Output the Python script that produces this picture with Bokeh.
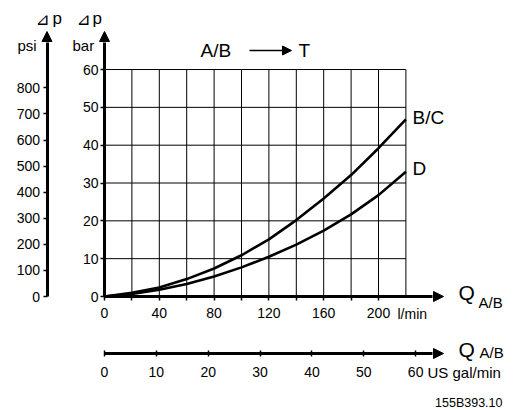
from bokeh.plotting import figure
from bokeh.models import (Range1d, LinearAxis, FixedTicker, Arrow, NormalHead,
                          Label, Grid, ColumnDataSource)
from bokeh.embed import file_html
from bokeh.resources import INLINE

# ---------------- data ----------------
FLOW_LPM = [0, 20, 40, 60, 80, 100, 120, 140, 160, 180, 200, 220]
DP_BC = [0, 1.0, 2.4, 4.6, 7.4, 10.9, 15.1, 20.2, 25.9, 32.1, 39.2, 46.8]
DP_D = [0, 0.7, 1.8, 3.3, 5.3, 7.7, 10.5, 13.7, 17.4, 21.7, 26.8, 33.0]

BAR_TICKS = [0, 10, 20, 30, 40, 50, 60]
PSI_TICKS = [0, 100, 200, 300, 400, 500, 600, 700, 800]
LPM_TICKS = [0, 40, 80, 120, 160, 200]
LPM_MINOR = [20, 60, 100, 140, 180]
GAL_TICKS = [0, 10, 20, 30, 40, 50, 60]
GRID_X = [20, 40, 60, 80, 100, 120, 140, 160, 180, 200, 220]
GRID_Y = [10, 20, 30, 40, 50, 60]

PSI_PER_BAR = 14.5038
LPM_PER_GAL = 3.78541

# ---------------- layout ----------------
W, H = 526, 409
MARGIN = 0
ORIGIN_X, ORIGIN_Y = 104.0, 296.0   # page pixels of (0 l/min, 0 bar)
PX_PER_LPM = 1.37
PX_PER_BAR = 3.783


def qx(px):
    return (px - ORIGIN_X) / PX_PER_LPM


def by(py):
    return (ORIGIN_Y - py) / PX_PER_BAR


FONT = "Liberation Sans"

p = figure(width=W, height=H, output_backend="svg", toolbar_location=None,
           tools="", x_range=Range1d(qx(MARGIN), qx(MARGIN + W)),
           y_range=Range1d(by(MARGIN + H), by(MARGIN)),
           x_axis_location=None, y_axis_location=None, min_border=0,
           outline_line_color=None, background_fill_color="white",
           border_fill_color="white")
p.title.visible = False
p.center = [r for r in p.center if not isinstance(r, Grid)]

p.extra_y_ranges = {"psi": Range1d(by(MARGIN + H) * PSI_PER_BAR, by(MARGIN) * PSI_PER_BAR)}
p.extra_x_ranges = {"gal": Range1d(qx(MARGIN) / LPM_PER_GAL, qx(MARGIN + W) / LPM_PER_GAL)}

# grid
gx = ColumnDataSource(dict(x0=GRID_X, y0=[0] * len(GRID_X), x1=GRID_X,
                           y1=[max(GRID_Y)] * len(GRID_X)))
gy = ColumnDataSource(dict(x0=[0] * len(GRID_Y), y0=GRID_Y,
                           x1=[max(GRID_X)] * len(GRID_Y), y1=GRID_Y))
p.segment("x0", "y0", "x1", "y1", source=gx, line_color="black", line_width=1)
p.segment("x0", "y0", "x1", "y1", source=gy, line_color="black", line_width=1)

# curves
p.line(FLOW_LPM, DP_BC, line_color="black", line_width=2.6, line_join="round")
p.line(FLOW_LPM, DP_D, line_color="black", line_width=2.6, line_join="round")


def style(ax, tick_in=0, tick_out=4, standoff=3):
    ax.axis_line_width = 3
    ax.axis_line_color = "black"
    ax.major_tick_line_width = 1.5
    ax.major_tick_line_color = "black"
    ax.major_tick_in = tick_in
    ax.major_tick_out = tick_out
    ax.minor_tick_line_width = 1.5
    ax.minor_tick_line_color = "black"
    ax.minor_tick_in = 0
    ax.minor_tick_out = tick_out
    ax.major_label_standoff = standoff
    ax.major_label_text_font = FONT
    ax.major_label_text_font_size = "14px"
    ax.major_label_text_color = "black"


bar_axis = LinearAxis(ticker=FixedTicker(ticks=BAR_TICKS), fixed_location=0,
                      bounds=(0, by(42)))
style(bar_axis, tick_out=4, standoff=2)
p.add_layout(bar_axis, "left")

psi_axis = LinearAxis(y_range_name="psi", ticker=FixedTicker(ticks=PSI_TICKS),
                      fixed_location=qx(46.5), bounds=(0, by(42) * PSI_PER_BAR))
style(psi_axis, tick_out=4, standoff=3)
p.add_layout(psi_axis, "left")

lpm_axis = LinearAxis(ticker=FixedTicker(ticks=LPM_TICKS, minor_ticks=LPM_MINOR),
                      fixed_location=0, bounds=(0, qx(432)))
style(lpm_axis, tick_out=4, standoff=7)
p.add_layout(lpm_axis, "below")

gal_axis = LinearAxis(x_range_name="gal", ticker=FixedTicker(ticks=GAL_TICKS),
                      fixed_location=by(353), bounds=(0, qx(432) / LPM_PER_GAL))
style(gal_axis, tick_in=3, tick_out=3, standoff=10)
p.add_layout(gal_axis, "below")


def arrow(x0, y0, x1, y1, size, width=None):
    head = NormalHead(size=size, fill_color="black", line_color="black", line_width=1)
    if width is None:
        p.add_layout(Arrow(end=head, x_start=qx(x0), y_start=by(y0), x_end=qx(x1),
                           y_end=by(y1), line_color=None))
    else:
        p.add_layout(Arrow(end=head, x_start=qx(x0), y_start=by(y0), x_end=qx(x1),
                           y_end=by(y1), line_color="black", line_width=width))


# axis arrow heads
arrow(104, 60, 104, 31, 10)
arrow(46.5, 60, 46.5, 31, 10)
arrow(400, 296, 443, 296, 10)
arrow(400, 353, 443, 353, 10)
# title arrow
arrow(249, 50, 291, 50, 9, width=1.3)


def text(t, px, py, size, align="left", baseline="middle", font=FONT):
    p.add_layout(Label(x=qx(px), y=by(py), text=t, text_font=font,
                       text_font_size=f"{size}px", text_align=align,
                       text_baseline=baseline, text_color="black"))


text("\u22bf", 35, 18, 17, font="DejaVu Sans")
text("p", 52, 18, 17)
text("\u22bf", 76, 18, 17, font="DejaVu Sans")
text("p", 92, 18, 17)
text("psi", 17, 45, 15)
text("bar", 72, 45, 15)
text("A/B", 200, 50, 19)
text("T", 298, 50, 19)
text("B/C", 412, 117, 19)
text("D", 412, 168, 19)
text("Q", 458, 292, 21)
text("A/B", 478, 301.5, 15)
text("Q", 458, 349, 21)
text("A/B", 479, 352, 15)
text("l/min", 397, 313, 14)
text("US gal/min", 427, 371.5, 15)
text("155B393.10", 502, 402.5, 12.5, align="right", baseline="middle")

open("out.html", "w").write(file_html(p, INLINE))
